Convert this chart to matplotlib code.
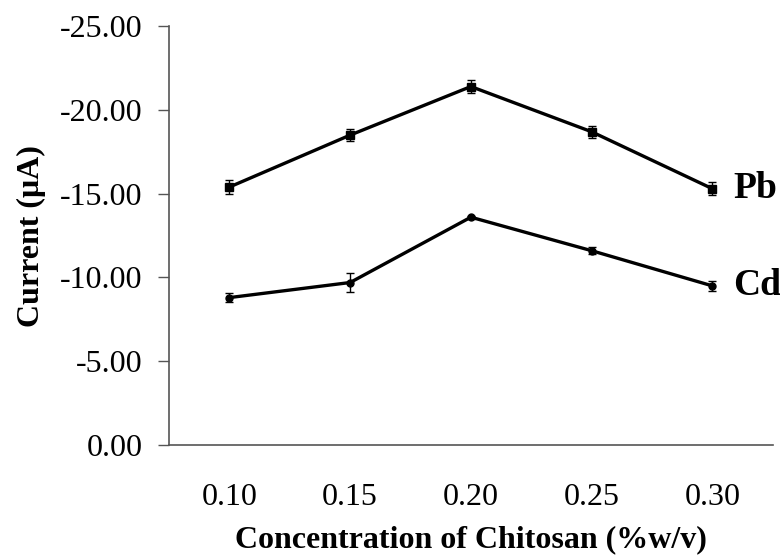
import matplotlib.pyplot as plt
import numpy as np

plt.rcParams['font.family'] = ['Liberation Serif', 'DejaVu Serif']

# Chitosan concentrations (%w/v) and peak currents (uA)
concentrations = ['0.10', '0.15', '0.20', '0.25', '0.30']
pb_current = [-15.4, -18.5, -21.4, -18.7, -15.3]
pb_error = [0.4, 0.38, 0.36, 0.36, 0.4]
cd_current = [-8.8, -9.7, -13.6, -11.6, -9.5]
cd_error = [0.25, 0.55, 0.1, 0.22, 0.3]
y_ticks = [0, -5, -10, -15, -20, -25]

fig = plt.figure(figsize=(7.8, 5.58), dpi=100)
ax = fig.add_axes([0.2167, 0.2025, 0.774, 0.7505])

x = np.arange(len(concentrations))

# Pb series with square markers, Cd with round markers
ax.errorbar(x, pb_current, yerr=pb_error, color='black', lw=2.4,
            marker='s', ms=5.5, capsize=3, elinewidth=1, capthick=1)
ax.errorbar(x, cd_current, yerr=cd_error, color='black', lw=2.4,
            marker='o', ms=5, capsize=3, elinewidth=1, capthick=1)

ax.text(x[-1] + 0.17, pb_current[-1], 'Pb', fontsize=27, fontweight='bold',
        va='center', ha='left', clip_on=False)
ax.text(x[-1] + 0.17, cd_current[-1], 'Cd', fontsize=27, fontweight='bold',
        va='center', ha='left', clip_on=False)

# 0 at the bottom, most negative current at the top
ax.set_ylim(0, -25)
ax.set_yticks(y_ticks)
ax.set_yticklabels([f'{v:.2f}' if v == 0 else f'-{abs(v):.2f}' for v in y_ticks])
ax.set_xlim(-0.5, 4.5)
ax.set_xticks(x)
ax.set_xticklabels(concentrations)

ax.tick_params(axis='y', direction='out', length=8, width=1, color='#555555',
               labelsize=23, pad=11)
ax.tick_params(axis='x', length=0, labelsize=23, pad=27)

for side in ['top', 'right']:
    ax.spines[side].set_visible(False)
for side in ['left', 'bottom']:
    ax.spines[side].set_color('#555555')
    ax.spines[side].set_linewidth(1.2)

ax.set_ylabel('Current (μA)', fontsize=23, fontweight='bold', labelpad=10)
ax.set_xlabel('Concentration of Chitosan (%w/v)', fontsize=23,
              fontweight='bold', labelpad=10)

fig.savefig('out.png', dpi=100)
